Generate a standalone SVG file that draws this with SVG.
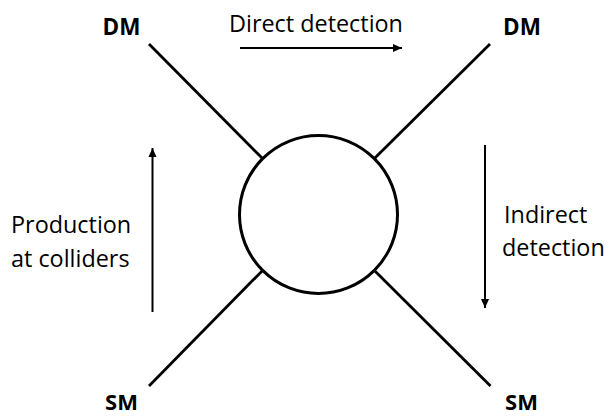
<svg xmlns="http://www.w3.org/2000/svg" width="611" height="417" viewBox="0 0 611 417">
<style>
.leg{stroke:#000;stroke-width:2.8;fill:none}
.arr{stroke:#000;stroke-width:2;fill:none;marker-end:url(#ah)}
.lbl{font-family:"Open Sans","Noto Sans",sans-serif;font-size:23.4px;fill:#000}
.b{font-weight:bold;text-anchor:middle;font-size:22.5px}
</style>
<defs>
<marker id="ah" markerUnits="userSpaceOnUse" markerWidth="10" markerHeight="10" viewBox="0 0 10 10" refX="9" refY="5" orient="auto">
<path d="M0,1 L9,5 L0,9 Z" fill="#000"/>
</marker>
</defs>
<g id="connectors">
<line class="leg" x1="149" y1="44" x2="262.6" y2="158.6"/>
<line class="leg" x1="490" y1="44" x2="374.4" y2="158.6"/>
<line class="leg" x1="149" y1="386" x2="262.6" y2="270.4"/>
<line class="leg" x1="490.5" y1="386" x2="374.4" y2="270.4"/>
<line class="arr" x1="240" y1="48" x2="402" y2="48"/>
<line class="arr" x1="152.5" y1="312" x2="152.5" y2="148"/>
<line class="arr" x1="485" y1="145" x2="485" y2="308"/>
</g>
<g id="vertex">
<circle cx="318.5" cy="214.5" r="79" fill="#fff" stroke="#000" stroke-width="3"/>
</g>
<g id="dm-left"><text class="lbl b" x="121.5" y="35">DM</text></g>
<g id="dm-right"><text class="lbl b" x="522" y="35">DM</text></g>
<g id="sm-left"><text class="lbl b" x="121.5" y="410" style="font-size:22px">SM</text></g>
<g id="sm-right"><text class="lbl b" x="521.5" y="410" style="font-size:22px">SM</text></g>
<g id="label-direct"><text class="lbl" x="229" y="32">Direct detection</text></g>
<g id="label-production"><text class="lbl" x="11" y="233">Production</text><text class="lbl" x="11" y="267">at colliders</text></g>
<g id="label-indirect"><text class="lbl" x="504" y="223">Indirect</text><text class="lbl" x="502" y="256">detection</text></g>
</svg>
